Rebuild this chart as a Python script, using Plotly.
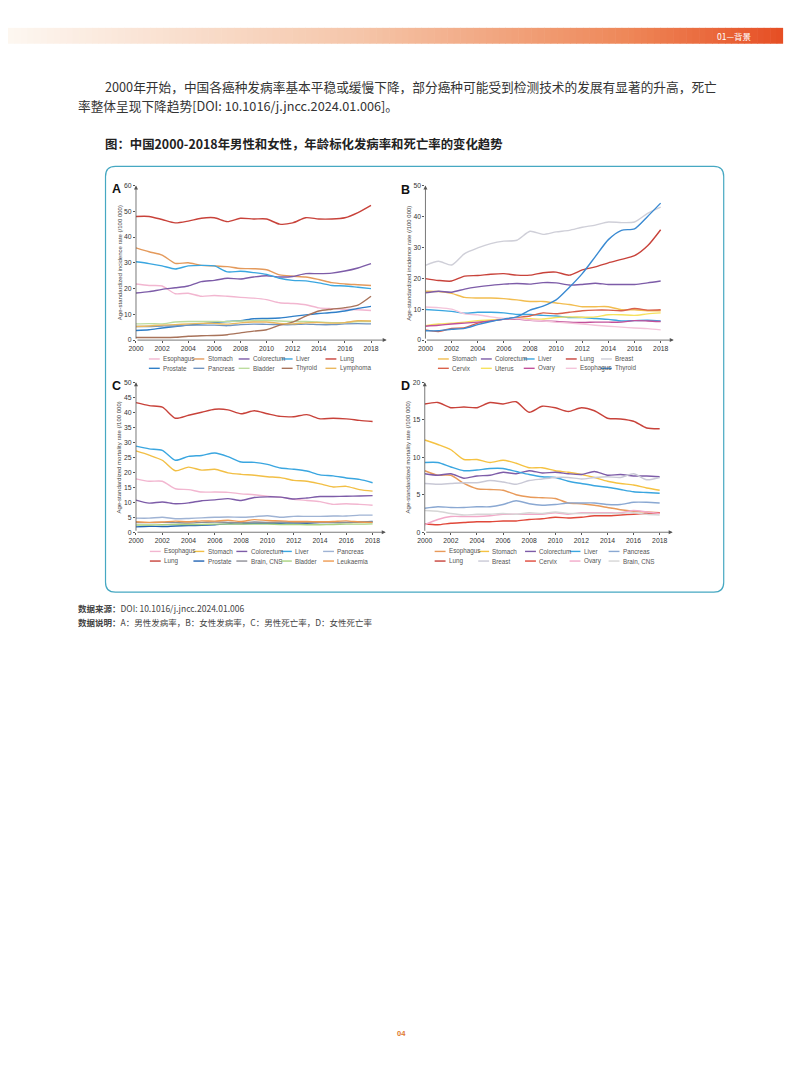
import plotly.graph_objects as go

W, H = 794, 1077
YEARS = list(range(2000, 2019))
X_TICKS = list(range(2000, 2019, 2))

# ---------------- Panel A: male incidence ----------------
A_ESOPHAGUS = [21.8, 21.2, 21.0, 18.0, 18.2, 17.0, 17.3, 17.0, 16.6, 16.3, 15.7, 14.5, 14.2, 13.7, 12.5, 12.2, 12.0, 11.8, 11.5]
A_STOMACH = [35.8, 34.3, 33.0, 29.8, 30.0, 29.0, 28.8, 28.5, 27.8, 27.7, 27.3, 25.3, 24.8, 24.5, 23.5, 22.3, 21.8, 21.5, 21.2]
A_COLORECTUM = [18.3, 18.8, 19.7, 20.3, 21.0, 22.7, 23.2, 24.0, 23.7, 24.5, 25.0, 24.5, 24.7, 25.8, 25.8, 26.0, 26.8, 28.0, 29.7]
A_LIVER = [30.4, 29.7, 28.8, 27.6, 28.8, 29.0, 28.8, 26.5, 26.7, 26.2, 25.5, 24.0, 23.2, 23.0, 22.2, 21.2, 21.0, 20.5, 20.0]
A_LUNG = [48.0, 48.0, 46.8, 45.5, 46.2, 47.3, 47.5, 46.0, 47.3, 47.0, 47.0, 45.0, 45.5, 47.5, 47.0, 47.0, 47.5, 49.5, 52.3]
A_PROSTATE = [3.7, 4.0, 4.7, 5.3, 5.8, 6.3, 6.8, 7.2, 7.5, 8.3, 8.4, 8.6, 9.2, 9.8, 10.3, 10.7, 11.3, 12.3, 13.1]
A_PANCREAS = [5.3, 5.3, 5.5, 5.5, 5.8, 5.8, 5.8, 5.6, 6.0, 6.2, 6.1, 6.0, 6.0, 6.2, 6.0, 6.0, 6.3, 6.4, 6.3]
A_BLADDER = [6.3, 6.4, 6.3, 7.0, 7.2, 7.2, 7.2, 7.2, 7.4, 7.5, 7.7, 7.4, 7.2, 7.2, 7.0, 6.8, 6.8, 7.2, 7.2]
A_THYROID = [1.0, 1.0, 1.0, 1.1, 1.5, 1.7, 1.8, 2.1, 2.8, 3.5, 4.0, 5.8, 7.0, 9.3, 11.3, 12.0, 12.6, 13.6, 17.0]
A_LYMPHOMA = [5.3, 5.5, 5.8, 6.0, 6.3, 6.5, 6.5, 6.2, 6.7, 7.0, 7.0, 6.5, 6.3, 6.7, 6.8, 6.6, 6.8, 7.5, 7.4]

# ---------------- Panel B: female incidence ----------------
B_STOMACH = [15.8, 15.7, 15.1, 13.8, 13.6, 13.6, 13.4, 13.0, 12.5, 12.5, 12.0, 11.5, 10.8, 10.8, 10.8, 9.8, 9.8, 9.5, 9.5]
B_COLORECTUM = [15.3, 15.8, 15.5, 16.5, 17.2, 17.7, 18.1, 18.3, 18.1, 18.6, 18.5, 17.8, 18.0, 18.4, 18.0, 18.0, 18.0, 18.5, 19.1]
B_LIVER = [9.9, 9.6, 9.3, 8.7, 9.0, 9.0, 8.8, 8.3, 8.3, 8.0, 7.8, 7.3, 7.3, 7.0, 6.7, 6.2, 6.3, 6.4, 6.2]
B_LUNG = [19.9, 19.3, 19.1, 20.7, 20.9, 21.3, 21.5, 21.0, 21.0, 21.8, 22.0, 21.0, 22.7, 23.7, 25.0, 26.1, 27.3, 30.5, 35.7]
B_BREAST = [24.2, 25.5, 24.3, 28.0, 29.8, 31.2, 32.0, 32.3, 35.2, 34.2, 35.0, 35.5, 36.5, 37.2, 38.2, 38.0, 38.2, 41.0, 43.0]
B_CERVIX = [3.3, 2.8, 3.8, 4.0, 5.5, 6.3, 6.8, 7.3, 7.8, 8.8, 8.5, 9.0, 9.5, 9.7, 9.7, 9.5, 10.2, 9.7, 9.8]
B_UTERUS = [4.7, 5.2, 5.5, 5.8, 6.3, 6.5, 6.8, 7.0, 6.9, 6.8, 7.3, 7.5, 7.4, 7.5, 8.2, 8.2, 8.0, 8.5, 8.8]
B_OVARY = [4.5, 4.8, 5.2, 5.5, 5.8, 6.2, 6.7, 6.8, 6.4, 6.2, 6.0, 5.8, 5.7, 5.8, 5.8, 5.8, 6.3, 6.2, 6.0]
B_ESOPHAGUS = [10.7, 10.5, 10.0, 8.5, 8.2, 7.5, 7.0, 7.0, 6.5, 6.2, 5.8, 5.5, 5.2, 4.8, 4.5, 4.2, 3.9, 3.7, 3.3]
B_THYROID = [3.0, 3.0, 3.5, 3.8, 5.0, 6.0, 6.8, 7.5, 9.7, 11.0, 13.0, 17.0, 21.5, 27.0, 32.5, 35.5, 36.0, 40.0, 44.3]

# ---------------- Panel C: male mortality ----------------
C_ESOPHAGUS = [17.8, 17.0, 17.0, 14.5, 14.2, 13.4, 13.4, 13.3, 12.8, 12.5, 12.0, 11.7, 11.0, 10.6, 10.2, 9.3, 9.5, 9.3, 9.0]
C_STOMACH = [27.1, 25.7, 24.0, 20.5, 21.7, 20.7, 21.0, 19.8, 19.3, 19.0, 18.5, 18.2, 17.3, 17.0, 16.1, 15.1, 15.3, 14.2, 13.7]
C_COLORECTUM = [10.7, 9.7, 10.1, 9.5, 9.8, 10.5, 10.8, 11.2, 10.6, 11.6, 11.8, 11.7, 11.1, 11.4, 11.9, 11.9, 12.0, 12.1, 12.2]
C_LIVER = [28.7, 27.8, 27.3, 24.0, 25.3, 25.6, 26.4, 25.2, 23.4, 23.3, 22.6, 21.4, 21.0, 20.4, 19.1, 18.8, 18.1, 17.6, 16.5]
C_PANCREAS = [4.7, 4.7, 5.0, 4.5, 4.6, 4.8, 5.0, 5.1, 5.0, 5.2, 5.5, 5.0, 5.3, 5.3, 5.3, 5.4, 5.4, 5.7, 5.7]
C_LUNG = [43.2, 42.2, 41.7, 38.0, 39.0, 40.0, 41.0, 40.8, 39.5, 40.5, 39.5, 38.6, 38.5, 39.2, 37.8, 38.0, 37.8, 37.3, 36.9]
C_PROSTATE = [1.8, 2.0, 1.9, 2.1, 2.2, 2.3, 2.5, 2.8, 2.8, 3.0, 3.0, 3.0, 3.1, 3.0, 3.2, 3.2, 3.3, 3.4, 3.6]
C_BRAIN = [3.2, 3.2, 3.3, 3.2, 3.1, 3.3, 3.4, 3.3, 3.2, 3.4, 3.3, 3.4, 3.3, 3.2, 3.3, 3.3, 3.2, 3.4, 3.4]
C_BLADDER = [2.4, 2.4, 2.5, 2.6, 2.6, 2.6, 2.7, 2.7, 2.7, 2.7, 2.7, 2.6, 2.6, 2.5, 2.5, 2.6, 2.7, 2.7, 2.8]
C_LEUKAEMIA = [3.5, 3.3, 3.4, 3.7, 3.5, 3.8, 3.7, 4.0, 3.6, 4.2, 3.9, 3.8, 3.6, 3.6, 3.5, 3.6, 3.8, 3.4, 3.3]

# ---------------- Panel D: female mortality ----------------
D_ESOPHAGUS = [8.2, 7.6, 7.6, 6.5, 5.8, 5.7, 5.6, 5.0, 4.7, 4.6, 4.5, 3.9, 3.8, 3.6, 3.3, 3.0, 2.8, 2.7, 2.6]
D_STOMACH = [12.3, 11.7, 11.0, 9.7, 9.7, 9.3, 9.6, 9.2, 8.6, 8.6, 8.2, 8.0, 7.7, 7.3, 6.8, 6.5, 6.3, 5.9, 5.6]
D_COLORECTUM = [7.8, 7.6, 7.8, 7.2, 7.5, 7.6, 8.0, 7.8, 8.2, 7.9, 8.0, 7.8, 7.7, 8.1, 7.6, 7.7, 7.5, 7.5, 7.4]
D_LIVER = [9.3, 9.3, 8.7, 8.2, 8.3, 8.5, 8.5, 8.1, 7.7, 7.4, 7.3, 6.8, 6.5, 6.2, 6.0, 5.7, 5.4, 5.3, 5.2]
D_PANCREAS = [3.2, 3.4, 3.3, 3.3, 3.4, 3.4, 3.7, 4.2, 3.8, 3.6, 3.7, 3.9, 3.9, 3.9, 3.7, 3.7, 4.0, 4.0, 3.9]
D_LUNG = [17.1, 17.3, 16.6, 16.7, 16.6, 17.3, 17.1, 17.4, 16.0, 16.8, 16.6, 16.1, 16.6, 16.2, 15.2, 15.1, 14.8, 13.9, 13.8]
D_BREAST = [6.5, 6.4, 6.5, 6.6, 6.6, 6.9, 6.7, 6.4, 6.9, 7.1, 7.3, 7.3, 7.1, 7.3, 7.4, 7.3, 7.8, 7.0, 7.3]
D_CERVIX = [1.1, 1.0, 1.2, 1.3, 1.4, 1.4, 1.5, 1.5, 1.7, 1.8, 2.0, 1.9, 2.0, 2.2, 2.2, 2.3, 2.4, 2.5, 2.6]
D_OVARY = [1.0, 1.7, 2.1, 2.1, 2.1, 2.2, 2.4, 2.4, 2.4, 2.4, 2.6, 2.4, 2.6, 2.6, 2.6, 2.6, 2.9, 2.7, 2.5]
D_BRAIN = [2.9, 2.8, 2.5, 2.3, 2.4, 2.4, 2.5, 2.4, 2.6, 2.5, 2.7, 2.5, 2.5, 2.5, 2.5, 2.5, 2.6, 2.4, 2.3]

RED = "#c8423a"
PURPLE = "#7d5ca8"
LBLUE = "#3aa6e0"
PINK = "#f2b6d0"

PANELS = [
    dict(key="A", xa="x", ya="y",
         series=[("Esophagus", A_ESOPHAGUS, PINK), ("Stomach", A_STOMACH, "#e49a5c"),
                 ("Colorectum", A_COLORECTUM, PURPLE), ("Liver", A_LIVER, LBLUE),
                 ("Lung", A_LUNG, RED), ("Prostate", A_PROSTATE, "#2f7fc8"),
                 ("Pancreas", A_PANCREAS, "#6f93c0"), ("Bladder", A_BLADDER, "#bcdc9e"),
                 ("Thyroid", A_THYROID, "#a8735a"), ("Lymphoma", A_LYMPHOMA, "#eab85e")],
         ymax=60, ydtick=10, xmax=2019.2,
         x0=129.3, x2018=366.7, ytop=182.7, ybot=338.3,
         title="Age-standardized incidence rate (/100 000)", title_x=112.5,
         label_x=110, label_y=186,
         legcols=[142.3, 187.3, 233.0, 276.5, 320.7], legrows=[357.3, 366.7]),
    dict(key="B", xa="x2", ya="y2",
         series=[("Stomach", B_STOMACH, "#f2bd50"), ("Colorectum", B_COLORECTUM, PURPLE),
                 ("Liver", B_LIVER, LBLUE), ("Lung", B_LUNG, RED),
                 ("Breast", B_BREAST, "#cfcfd8"), ("Cervix", B_CERVIX, "#d9604a"),
                 ("Uterus", B_UTERUS, "#f6e25e"), ("Ovary", B_OVARY, "#c2509a"),
                 ("Esophagus", B_ESOPHAGUS, "#f4c4da"), ("Thyroid", B_THYROID, "#3a8ad2")],
         ymax=50, ydtick=10, xmax=2019.0,
         x0=421.7, x2018=659.3, ytop=182.7, ybot=338.3,
         title="Age-standardized incidence rate (/100 000)", title_x=405,
         label_x=402, label_y=187,
         legcols=[434.3, 477.7, 521.0, 563.5, 599.0], legrows=[357.3, 366.7]),
    dict(key="C", xa="x3", ya="y3",
         series=[("Esophagus", C_ESOPHAGUS, PINK), ("Stomach", C_STOMACH, "#f2bf45"),
                 ("Colorectum", C_COLORECTUM, PURPLE), ("Liver", C_LIVER, LBLUE),
                 ("Pancreas", C_PANCREAS, "#9fb3d4"), ("Lung", C_LUNG, RED),
                 ("Prostate", C_PROSTATE, "#2264b4"), ("Brain, CNS", C_BRAIN, "#8e8e96"),
                 ("Bladder", C_BLADDER, "#a9d27e"), ("Leukaemia", C_LEUKAEMIA, "#ee9a52")],
         ymax=50, ydtick=5, xmax=2019.0,
         x0=129.3, x2018=368.3, ytop=380.7, ybot=531.7,
         title="Age-standardized mortality rate (/100 000)", title_x=112.5,
         label_x=110, label_y=384.5,
         legcols=[143.3, 187.3, 230.7, 275.7, 318.3], legrows=[551.0, 560.7]),
    dict(key="D", xa="x4", ya="y4",
         series=[("Esophagus", D_ESOPHAGUS, "#e89a5a"), ("Stomach", D_STOMACH, "#f5c242"),
                 ("Colorectum", D_COLORECTUM, PURPLE), ("Liver", D_LIVER, LBLUE),
                 ("Pancreas", D_PANCREAS, "#8aa8d2"), ("Lung", D_LUNG, RED),
                 ("Breast", D_BREAST, "#c9c9d6"), ("Cervix", D_CERVIX, "#e0483a"),
                 ("Ovary", D_OVARY, "#f2a9c9"), ("Brain, CNS", D_BRAIN, "#d6d6d6")],
         ymax=20, ydtick=5, xmax=2019.0,
         x0=421.0, x2018=658.3, ytop=380.7, ybot=531.7,
         title="Age-standardized mortality rate (/100 000)", title_x=404.3,
         label_x=401.5, label_y=384.5,
         legcols=[431.0, 475.0, 522.3, 567.3, 606.7], legrows=[551.0, 560.7]),
]


def px(x):
    return x / W


def py(y):
    return 1 - y / H


fig = go.Figure()
shapes = []
annotations = []
AXIS_COLOR = "#555555"
TICK_FONT = dict(family="Liberation Sans, Arial", size=6.8, color="#333333")

for i, p in enumerate(PANELS):
    n = "" if i == 0 else str(i + 1)
    per_year = (p["x2018"] - p["x0"]) / 18.0
    x_end = p["x0"] + (p["xmax"] - 2000) * per_year
    for name, vals, col in p["series"]:
        fig.add_trace(go.Scatter(
            x=YEARS, y=vals, mode="lines", name=name, showlegend=False,
            line=dict(color=col, width=1.4, shape="spline", smoothing=0.7),
            xaxis=p["xa"], yaxis=p["ya"], hoverinfo="skip"))
    fig.layout["xaxis" + n] = dict(
        domain=[px(p["x0"]), px(x_end)], range=[2000, p["xmax"]],
        anchor=p["ya"], tickmode="array", tickvals=X_TICKS, ticks="outside",
        ticklen=2, tickcolor=AXIS_COLOR, tickwidth=0.7, showgrid=False, zeroline=False,
        showline=False, tickfont=TICK_FONT, fixedrange=True)
    fig.layout["yaxis" + n] = dict(
        domain=[py(p["ybot"]), py(p["ytop"])], range=[0, p["ymax"]],
        anchor=p["xa"], tickmode="linear", tick0=0, dtick=p["ydtick"], ticks="outside",
        ticklen=2, tickcolor=AXIS_COLOR, tickwidth=0.7, showgrid=False, zeroline=False,
        showline=False, tickfont=TICK_FONT, fixedrange=True)
    annotations.append(dict(x=p["xmax"], y=0, ax=2000, ay=0, xref=p["xa"], yref=p["ya"],
                            axref=p["xa"], ayref=p["ya"], text="", showarrow=True,
                            arrowhead=2, arrowsize=1.0, arrowwidth=0.8, arrowcolor=AXIS_COLOR,
                            standoff=0, startstandoff=0))
    annotations.append(dict(x=2000, y=p["ymax"], ax=2000, ay=0, xref=p["xa"], yref=p["ya"],
                            axref=p["xa"], ayref=p["ya"], text="", showarrow=True,
                            arrowhead=2, arrowsize=1.0, arrowwidth=0.8, arrowcolor=AXIS_COLOR,
                            standoff=0, startstandoff=0))
    annotations.append(dict(x=px(p["title_x"]), y=py((p["ytop"] + p["ybot"]) / 2),
                            xref="paper", yref="paper", text=p["title"], textangle=-90,
                            showarrow=False, xanchor="center", yanchor="middle",
                            font=dict(family="Liberation Sans, Arial", size=6, color="#444444")))
    annotations.append(dict(x=px(p["label_x"]), y=py(p["label_y"]), xref="paper", yref="paper",
                            text="<b>%s</b>" % p["key"], showarrow=False,
                            xanchor="center", yanchor="middle",
                            font=dict(family="Liberation Sans, Arial", size=12.5, color="#111111")))
    for j, (name, vals, col) in enumerate(p["series"]):
        r, c = divmod(j, 5)
        lx = p["legcols"][c]
        ly = p["legrows"][r]
        shapes.append(dict(type="line", xref="paper", yref="paper",
                           x0=px(lx), x1=px(lx + 11), y0=py(ly), y1=py(ly),
                           line=dict(color=col, width=1.4)))
        annotations.append(dict(x=px(lx + 12.3), y=py(ly), xref="paper", yref="paper",
                                text=name, showarrow=False, xanchor="left", yanchor="middle",
                                font=dict(family="Liberation Sans, Arial", size=6.3,
                                          color="#555555")))

# ---------- header gradient bar ----------
stops = [(0.0, (253, 247, 241)), (0.45, (245, 198, 170)), (0.8, (238, 135, 88)), (1.0, (230, 78, 36))]


def grad(t):
    for k in range(len(stops) - 1):
        t0, c0 = stops[k]
        t1, c1 = stops[k + 1]
        if t <= t1:
            f = (t - t0) / (t1 - t0)
            return "rgb(%d,%d,%d)" % tuple(round(c0[m] + (c1[m] - c0[m]) * f) for m in range(3))
    return "rgb(%d,%d,%d)" % stops[-1][1]


NSEG = 120
BAR_X1 = 783.0
for k in range(NSEG):
    xa = BAR_X1 * k / NSEG
    xb = BAR_X1 * (k + 1) / NSEG + 0.6
    shapes.append(dict(type="rect", xref="paper", yref="paper", layer="below",
                       x0=px(xa), x1=px(min(xb, BAR_X1)), y0=py(40), y1=py(24),
                       fillcolor=grad((k + 0.5) / NSEG), line=dict(width=0)))
annotations.append(dict(x=px(733), y=py(32), xref="paper", yref="paper", text="01—背景",
                        showarrow=False, xanchor="center", yanchor="middle",
                        font=dict(family="Noto Sans CJK SC", size=8.5, color="#ffffff")))

# ---------- body text ----------
CJK = "Noto Sans CJK SC"
annotations.append(dict(x=px(96), y=py(83), xref="paper", yref="paper", showarrow=False,
                        xanchor="left", yanchor="middle",
                        text="2000年开始，中国各癌种发病率基本平稳或缓慢下降，部分癌种可能受到检测技术的发展有显著的升高，死亡",
                        font=dict(family=CJK, size=12.7, color="#333333")))
annotations.append(dict(x=px(69), y=py(102), xref="paper", yref="paper", showarrow=False,
                        xanchor="left", yanchor="middle",
                        text="率整体呈现下降趋势[DOI: 10.1016/j.jncc.2024.01.006]。",
                        font=dict(family=CJK, size=12.7, color="#333333")))
annotations.append(dict(x=px(96), y=py(141), xref="paper", yref="paper", showarrow=False,
                        xanchor="left", yanchor="middle",
                        text="<b>图：中国2000-2018年男性和女性，年龄标化发病率和死亡率的变化趋势</b>",
                        font=dict(family=CJK, size=12.4, color="#222222")))

# ---------- rounded box ----------
bx0, by0, bx1, by1, rr = 98.5, 163.5, 723.0, 592.0, 10.0


def P(x, y):
    return "%.5f,%.5f" % (px(x), py(y))


box_path = ("M" + P(bx0 + rr, by0) + " L" + P(bx1 - rr, by0) + " Q" + P(bx1, by0) + " " + P(bx1, by0 + rr) +
            " L" + P(bx1, by1 - rr) + " Q" + P(bx1, by1) + " " + P(bx1 - rr, by1) +
            " L" + P(bx0 + rr, by1) + " Q" + P(bx0, by1) + " " + P(bx0, by1 - rr) +
            " L" + P(bx0, by0 + rr) + " Q" + P(bx0, by0) + " " + P(bx0 + rr, by0) + " Z")
shapes.append(dict(type="path", xref="paper", yref="paper", path=box_path,
                   line=dict(color="#46a8c2", width=1.2), layer="below"))

# ---------- footnotes ----------
annotations.append(dict(x=px(69), y=py(608), xref="paper", yref="paper", showarrow=False,
                        xanchor="left", yanchor="middle",
                        text="<b>数据来源：</b>DOI: 10.1016/j.jncc.2024.01.006",
                        font=dict(family=CJK, size=8.5, color="#444444")))
annotations.append(dict(x=px(69), y=py(622), xref="paper", yref="paper", showarrow=False,
                        xanchor="left", yanchor="middle",
                        text="<b>数据说明：</b>A：男性发病率，B：女性发病率，C：男性死亡率，D：女性死亡率",
                        font=dict(family=CJK, size=8.5, color="#444444")))
annotations.append(dict(x=px(397), y=py(1036), xref="paper", yref="paper", showarrow=False,
                        xanchor="center", yanchor="middle", text="<b>04</b>",
                        font=dict(family="Liberation Sans, Arial", size=7.5, color="#e07a30")))

fig.update_layout(
    width=W, height=H, margin=dict(l=0, r=0, t=0, b=0, pad=0),
    paper_bgcolor="#ffffff", plot_bgcolor="rgba(0,0,0,0)",
    showlegend=False, shapes=shapes, annotations=annotations,
)

fig.write_html("out.html", config={"displayModeBar": False},
               post_script="document.body.style.margin='0';")
